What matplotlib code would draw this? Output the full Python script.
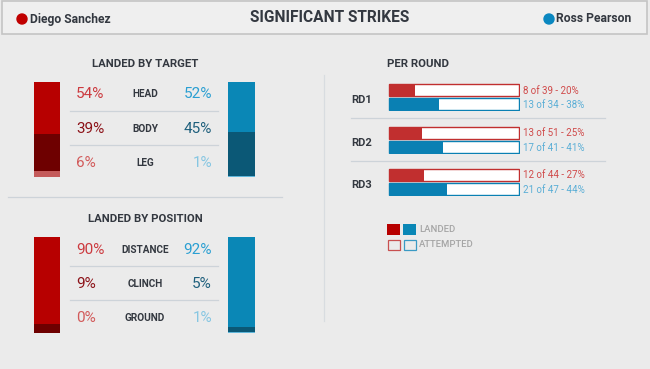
import numpy as np
import matplotlib
matplotlib.use('Agg')
import matplotlib.pyplot as plt
from matplotlib.patches import Rectangle, Circle

plt.rcParams['font.family'] = ['Roboto', 'DejaVu Sans']

# Data
fighter_red = 'Diego Sanchez'
fighter_blue = 'Ross Pearson'
chart_title = 'SIGNIFICANT STRIKES'

target_labels = ['HEAD', 'BODY', 'LEG']
target_red = [54, 39, 6]
target_blue = [52, 45, 1]

position_labels = ['DISTANCE', 'CLINCH', 'GROUND']
position_red = [90, 9, 0]
position_blue = [92, 5, 1]

rounds = ['RD1', 'RD2', 'RD3']
landed_red = [8, 13, 12]
attempted_red = [39, 51, 44]
landed_blue = [13, 17, 21]
attempted_blue = [34, 41, 47]

legend_labels = ['LANDED', 'ATTEMPTED']

# Colours
BG = '#ebebeb'
DARK = '#333840'
red_shades = ['#b70000', '#6e0000', '#c45a5a']
blue_shades = ['#0a87b6', '#0b5876', '#5fb6da']
red_text = ['#cc3a3f', '#8c1218', '#d25a5a']
blue_text = ['#2a9fd2', '#1e5f7c', '#86c6e2']
RED_RD = '#c12f2f'
BLUE_RD = '#0a80b3'
SEP = '#cdd3d9'

W, H = 650, 369
fig = plt.figure(figsize=(W / 100, H / 100), dpi=100, facecolor=BG)

# overlay axis in pixel coordinates for text/lines
ov = fig.add_axes([0, 0, 1, 1])
ov.set_xlim(0, W)
ov.set_ylim(H, 0)
ov.axis('off')
ov.set_zorder(5)
ov.patch.set_alpha(0)


def px_axes(x0, y0, x1, y1):
    ax = fig.add_axes([x0 / W, 1 - y1 / H, (x1 - x0) / W, (y1 - y0) / H])
    ax.axis('off')
    return ax


# Header
ov.add_patch(Rectangle((2, 1), 645, 33, facecolor='#efefef', edgecolor='#c4c4c4', lw=1.2))
ov.add_patch(Circle((22, 19), 5, color='#c00000'))
ov.text(30, 19, fighter_red, fontsize=8.7, fontweight='bold', color=DARK, va='center', ha='left')
ov.add_patch(Circle((549, 19), 5, color='#0a87c0'))
ov.text(556, 19, fighter_blue, fontsize=8.7, fontweight='bold', color=DARK, va='center', ha='left')
ov.text(330, 18, chart_title, fontsize=11.2, fontweight='bold', color=DARK, va='center', ha='center')


def stacked_bar(x0, y0, x1, y1, vals, shades):
    ax = px_axes(x0, y0, x1, y1)
    bottom = 0
    for v, c in zip(vals, shades):
        ax.bar(0, v, bottom=bottom, width=1, color=c, linewidth=0)
        bottom += v
    ax.set_xlim(-0.5, 0.5)
    ax.set_ylim(sum(vals), 0)


def breakdown(title, title_y, top, bottom, labels, red, blue, row_ys, sep_ys):
    ov.text(145, title_y, title, fontsize=8.2, fontweight='bold', color=DARK, ha='center', va='center')
    stacked_bar(34, top, 60, bottom, red, red_shades)
    stacked_bar(228, top, 255, bottom, blue, blue_shades)
    for i, (lab, r, b) in enumerate(zip(labels, red, blue)):
        y = row_ys[i]
        ov.text(76, y, f'{r}%', fontsize=11, color=red_text[i], ha='left', va='center')
        ov.text(145, y, lab, fontsize=7.2, fontweight='bold', color=DARK, ha='center', va='center')
        ov.text(212, y, f'{b}%', fontsize=11, color=blue_text[i], ha='right', va='center')
    for y in sep_ys:
        ov.plot([70, 218], [y, y], color=SEP, lw=0.9)


breakdown('LANDED BY TARGET', 64, 82, 177, target_labels, target_red, target_blue,
          [94, 129, 163], [111, 145])
ov.plot([8, 282], [197, 197], color=SEP, lw=0.9)
breakdown('LANDED BY POSITION', 219, 237, 333, position_labels, position_red, position_blue,
          [250, 284, 318], [266, 300])

# vertical divider
ov.plot([324, 324], [75, 321], color='#d8dce0', lw=0.9)

# Per round
ov.text(387, 64, 'PER ROUND', fontsize=8.2, fontweight='bold', color=DARK, ha='left', va='center')
round_tops = [83, 126, 168]
for i, rd in enumerate(rounds):
    t = round_tops[i]
    ax = px_axes(388, t, 520, t + 28)
    pr = 100 * landed_red[i] / attempted_red[i]
    pb = 100 * landed_blue[i] / attempted_blue[i]
    ax.barh([0, 1], [100, 100], height=0.88, color='white',
            edgecolor=[RED_RD, BLUE_RD], linewidth=1.0)
    ax.barh([0, 1], [pr, pb], height=0.88, color=[RED_RD, BLUE_RD], linewidth=0)
    ax.set_xlim(-0.5, 100.5)
    ax.set_ylim(1.5, -0.5)
    ov.text(351, t + 17, rd, fontsize=8, fontweight='bold', color=DARK, ha='left', va='center')
    ov.text(523, t + 7.5, f'{landed_red[i]} of {attempted_red[i]} - {int(pr)}%',
            fontsize=7, color='#d04a4a', ha='left', va='center')
    ov.text(523, t + 22, f'{landed_blue[i]} of {attempted_blue[i]} - {int(pb)}%',
            fontsize=7, color='#5aaed6', ha='left', va='center')
    if i < len(rounds) - 1:
        ov.plot([351, 605], [t + 35, t + 35], color=SEP, lw=0.9)

# Legend
ov.add_patch(Rectangle((387, 224), 13, 11, facecolor=red_shades[0], edgecolor='none'))
ov.add_patch(Rectangle((403, 224), 13, 11, facecolor=blue_shades[0], edgecolor='none'))
ov.add_patch(Rectangle((387.5, 239.5), 12, 10, facecolor='none', edgecolor='#c85050', lw=0.9))
ov.add_patch(Rectangle((403.5, 239.5), 12, 10, facecolor='none', edgecolor='#3a9ac4', lw=0.9))
ov.text(419, 229.5, legend_labels[0], fontsize=6.8, fontweight='medium', color='#a5a5a5', ha='left', va='center')
ov.text(419, 244.5, legend_labels[1], fontsize=6.8, fontweight='medium', color='#a5a5a5', ha='left', va='center')

fig.savefig('out.png', dpi=100, facecolor=BG)
